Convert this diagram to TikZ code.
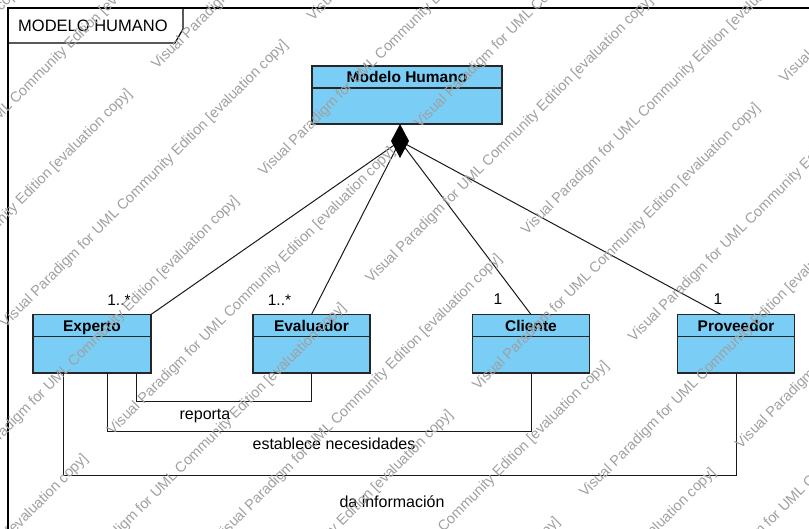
\documentclass[tikz,border=0pt]{standalone}
\usepackage{fontspec}
\setmainfont{Liberation Sans}
\usetikzlibrary{calc}
\definecolor{classfill}{RGB}{122,206,245}
\definecolor{wmgray}{RGB}{160,160,160}

% UML class: name, x, y (north west corner), width, height, title
\newcommand\umlclass[6]{%
  \node[classbox, minimum width=#4pt, minimum height=#5pt] (#1) at (#2,#3) {};
  \draw[classline] ($(#1.north west)+(0,22)$) -- ($(#1.north east)+(0,22)$);
  \node[classname] (#1-name) at ($(#1.north)+(0,17)$) {#6};
}

\begin{document}
\begin{tikzpicture}[x=1pt,y=-1pt,
  classbox/.style={draw=black!85, line width=1.3pt, fill=classfill, rectangle,
    inner sep=0pt, outer sep=0pt, anchor=north west},
  classline/.style={draw=black!85, line width=1.3pt},
  classname/.style={font=\fontsize{15.5}{18}\selectfont\bfseries, anchor=base, inner sep=0pt},
  mult/.style={font=\fontsize{15.5}{18}\selectfont, anchor=base, inner sep=0pt},
  assoclabel/.style={font=\fontsize{16}{19}\selectfont, anchor=base, inner sep=0pt},
  conn/.style={draw=black!90, line width=1pt},
  framel/.style={draw=black, line width=1.2pt},
  wmark/.style={font=\fontsize{14.5}{17}\selectfont, text=wmgray, rotate=45,
    anchor=base west, inner sep=0pt},
]
\useasboundingbox (0,0) rectangle (809,529);
\fill[white] (0,0) rectangle (809,529);

% package frame with its name tab
\begin{scope}
  \clip (0,0) rectangle (809,529);
  \draw[framel] (8,540) -- (8,8) -- (820,8);
  \draw[framel] (8,43) -- (175,43) -- (183,29) -- (183,8);
\end{scope}
\node[anchor=base west, font=\fontsize{16.5}{19}\selectfont, inner sep=0pt] (title) at (18,32) {MODELO HUMANO};

% classes
\umlclass{modelo}{312}{66}{190}{58}{Modelo Humano}
\umlclass{exp}{33}{314.5}{118}{58.5}{Experto}
\umlclass{eval}{253}{314.5}{117}{58.5}{Evaluador}
\umlclass{cli}{472.5}{314.5}{117}{58.5}{Cliente}
\umlclass{prov}{677.5}{314.5}{117}{58.5}{Proveedor}

% composition
\coordinate (agg) at (400,141);
\draw[conn] (exp.north east) -- (agg);
\draw[conn] (eval.north) -- (agg);
\draw[conn] (cli.north) -- (agg);
\draw[conn] ($(prov.north)+(-15,0)$) -- (agg);
\fill[black] (400,124) -- (409,141) -- (400,158) -- (391,141) -- cycle;

% multiplicities
\node[mult] (m1) at (119,306) {1..*};
\node[mult] (m2) at (279.5,306) {1..*};
\node[mult] (m3) at (498,305) {1};
\node[mult] (m4) at (718,305) {1};

% associations below the classes
\draw[conn] ($(exp.south west)+(103,0)$) -- ++(0,29) -| (eval.south);
\draw[conn] ($(exp.south west)+(74,0)$) -- ++(0,58) -| (cli.south);
\draw[conn] ($(exp.south west)+(30,0)$) -- ++(0,102) -| (prov.south);
\node[assoclabel] (lrep) at (205,419) {reporta};
\node[assoclabel] (lest) at (334,449) {establece necesidades};
\node[assoclabel] (linfo) at (392,507) {da información};

% evaluation watermark
\begin{scope}
  \clip (0,0) rectangle (809,529);
  \foreach \b in {-2,...,6} {
    \foreach \a in {-3,...,3} {
      \node[wmark] (wm-\a-\b) at ({157+307*\a+107*\b},{70-307*\a+107*\b})
        {Visual Paradigm for UML Community Edition [evaluation copy]};
      \node[wmark] (wmh-\a-\b) at ({157+307*(\a+1/3)+107*(\b+0.5)},{70-307*(\a+1/3)+107*(\b+0.5)})
        {Visual Paradigm for UML Community Edition [evaluation copy]};
    }
  }
\end{scope}
\end{tikzpicture}
\end{document}
